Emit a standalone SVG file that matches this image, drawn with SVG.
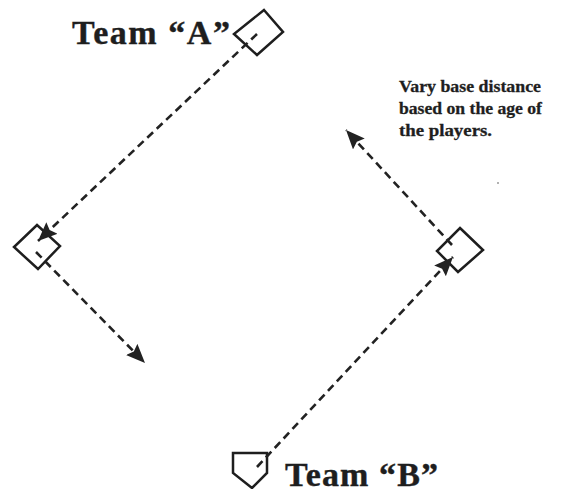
<svg xmlns="http://www.w3.org/2000/svg" width="580" height="489" viewBox="0 0 580 489">
  <style>
    .base { fill: none; stroke: #1e1e1e; stroke-width: 2.5; stroke-linejoin: miter; }
    .run { fill: none; stroke: #222; stroke-width: 2.6; stroke-dasharray: 8 5; }
    .team { font-family: "Liberation Serif", "Times New Roman", serif; font-weight: bold; font-size: 34px; fill: #1e1e1e; stroke: #1e1e1e; stroke-width: 0.4; }
    .note { font-family: "Liberation Serif", "Times New Roman", serif; font-weight: bold; font-size: 17px; fill: #1e1e1e; stroke: #1e1e1e; stroke-width: 0.3; }
  </style>
  <defs>
    <marker id="head" markerUnits="userSpaceOnUse" markerWidth="22" markerHeight="18" refX="19" refY="8" orient="auto">
      <path d="M0,0 L19,8 L0,16 L3,8 z" fill="#222"/>
    </marker>
  </defs>
  <rect width="580" height="489" fill="#fff"/>

  <!-- bases -->
  <g id="base-top">
    <polygon class="base" points="264,10 283,32 257,55 234,34"/>
  </g>
  <g id="base-left">
    <polygon class="base" points="37,225 60,246 38,269 14,247"/>
  </g>
  <g id="base-right">
    <polygon class="base" points="460,228 483,250 458,272 437,251"/>
  </g>
  <g id="home-plate">
    <polygon class="base" points="233,453 267,453 267,473 252,488 233,473"/>
  </g>

  <!-- running paths -->
  <g id="connectors">
    <line class="run" x1="257" y1="34" x2="38" y2="241" marker-end="url(#head)"/>
    <line class="run" x1="36" y1="252" x2="145" y2="363" marker-end="url(#head)"/>
    <line class="run" x1="257" y1="467" x2="453" y2="257" marker-end="url(#head)"/>
    <line class="run" x1="452" y1="245" x2="346" y2="130" marker-end="url(#head)"/>
  </g>

  <!-- labels -->
  <g id="label-team-a">
    <text class="team" x="72" y="44" textLength="158" lengthAdjust="spacing">Team “A”</text>
  </g>
  <g id="label-team-b">
    <text class="team" x="285" y="486" textLength="153" lengthAdjust="spacing">Team “B”</text>
  </g>
  <g id="label-note">
    <text class="note" x="399" y="92" textLength="142" lengthAdjust="spacingAndGlyphs">Vary base distance</text>
    <text class="note" x="399" y="114" textLength="143" lengthAdjust="spacingAndGlyphs">based on the age of</text>
    <text class="note" x="399" y="136" textLength="93" lengthAdjust="spacingAndGlyphs">the players.</text>
  </g>

  <circle cx="498" cy="183" r="1" fill="#999"/>
</svg>
